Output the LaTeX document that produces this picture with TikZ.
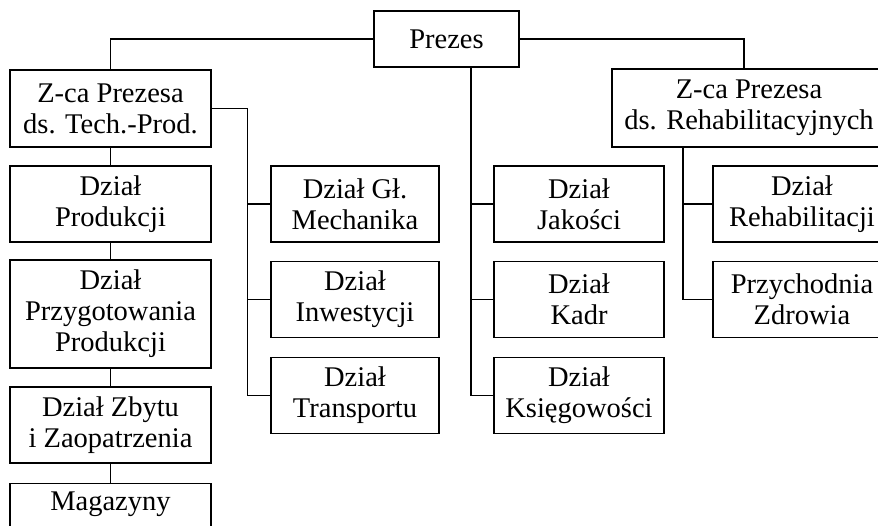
\documentclass[tikz,border=0pt]{standalone}
\usepackage{fontspec}
\setmainfont{Liberation Serif}
\begin{document}
\begin{tikzpicture}[x=1pt,y=-1pt,
  box/.style={draw=black,line width=1.2pt,rectangle,align=center,inner sep=1pt,
    font=\fontsize{28.5}{31}\selectfont},
  wa/.style={box,minimum width=201pt},
  wb/.style={box,minimum width=168pt},
  wc/.style={box,minimum width=170pt},
  wd/.style={box,minimum width=178pt},
  two/.style={minimum height=76pt},
  link/.style={line width=1.2pt,draw=black}]
\useasboundingbox (0,0) rectangle (878,525);
\clip (0,0) rectangle (878,525);
\fill[white] (0,0) rectangle (878,525);
% top
\node[box,minimum width=145pt,minimum height=56pt] (prezes) at (446.5,39) {Prezes};
\node[wa,two,minimum height=77pt] (zt) at (110.5,108.5) {Z-ca Prezesa\\ds. Tech.-Prod.};
\node[box,minimum width=274pt,minimum height=78pt] (zr) at (749,108) {Z-ca Prezesa\\ds. Rehabilitacyjnych};
% left column
\node[wa,two] (prod) at (110.5,204) {Dział\\Produkcji};
\node[wa,minimum height=108pt] (przyg) at (110.5,314) {Dział\\Przygotowania\\Produkcji};
\node[wa,two] (zbyt) at (110.5,425) {Dział Zbytu\\i Zaopatrzenia};
\node[wa,anchor=north,text height=19pt,text depth=21pt,inner ysep=8pt] (mag) at (110.5,483) {Magazyny};
% second column
\node[wb,two] (mech) at (355,204) {Dział Gł.\\Mechanika};
\node[wb,two] (inw) at (355,299.5) {Dział\\Inwestycji};
\node[wb,two] (trans) at (355,395.5) {Dział\\Transportu};
% third column
\node[wc,two] (jak) at (579,204) {Dział\\Jakości};
\node[wc,two] (kadr) at (579,299.5) {Dział\\Kadr};
\node[wc,two] (ksieg) at (579,395.5) {Dział\\Księgowości};
% right column
\node[wd,two] (rehab) at (802,204) {Dział\\Rehabilitacji};
\node[wd,two] (przych) at (802,299.5) {Przychodnia\\Zdrowia};
% connectors
\coordinate (pt) at ([xshift=24.5pt]prezes.south);
\coordinate (tt) at ([xshift=36pt]zt.east);
\coordinate (rt) at ([xshift=-66pt]zr.south);
\coordinate (rtop) at ([xshift=-5pt]zr.north);
\draw[link] (prezes.west) -| (zt.north);
\draw[link] (prezes.east) -| (rtop);
\draw[link] (zt.south) -- (prod.north);
\draw[link] (prod.south) -- (przyg.north);
\draw[link] (przyg.south) -- (zbyt.north);
\draw[link] (zbyt.south) -- (mag.north);
\draw[link] (zt.east) -- (tt) |- (trans.west);
\draw[link] (mech.west) -- (mech.west -| tt);
\draw[link] (inw.west) -- (inw.west -| tt);
\draw[link] (pt) |- (ksieg.west);
\draw[link] (jak.west) -- (jak.west -| pt);
\draw[link] (kadr.west) -- (kadr.west -| pt);
\draw[link] (rt) |- (przych.west);
\draw[link] (rehab.west) -- (rehab.west -| rt);
\end{tikzpicture}
\end{document}
